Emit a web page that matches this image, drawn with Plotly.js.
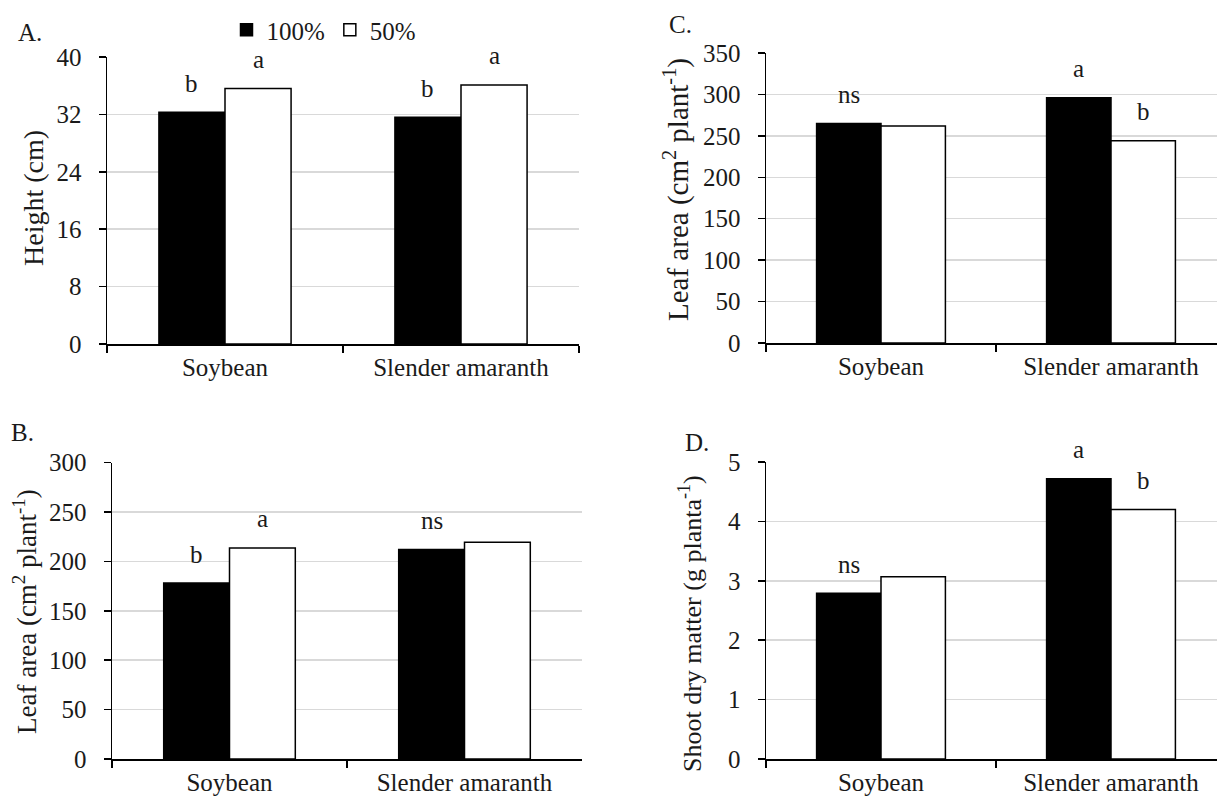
<!DOCTYPE html>
<html>
<head>
<meta charset="utf-8">
<script src="https://cdn.plot.ly/plotly-3.0.1.min.js"></script>
<style>
html,body{margin:0;padding:0;background:#fff;}
#chart{width:1217px;height:804px;}
#chart text, #chart tspan { font-family: "Liberation Serif", "Times New Roman", serif !important; }
</style>
</head>
<body>
<div id="chart"></div>
<script>
// ---- data ----
const categories = ['Soybean', 'Slender amaranth'];
const seriesNames = ['100%', '50%'];

const heightFull = [32.3, 31.6];
const heightHalf = [35.6, 36.1];
const heightLettersFull = ['b', 'b'];
const heightLettersHalf = ['a', 'a'];

const leafB_Full = [178, 212];
const leafB_Half = [213.5, 219.3];
const leafB_LettersFull = ['b', 'ns'];
const leafB_LettersHalf = ['a', ''];

const leafC_Full = [265, 296];
const leafC_Half = [262, 244];
const leafC_LettersFull = ['ns', 'a'];
const leafC_LettersHalf = ['', 'b'];

const dryFull = [2.79, 4.72];
const dryHalf = [3.07, 4.2];
const dryLettersFull = ['ns', 'a'];
const dryLettersHalf = ['', 'b'];

const yTicksA = [0, 8, 16, 24, 32, 40];
const yTicksB = [0, 50, 100, 150, 200, 250, 300];
const yTicksC = [0, 50, 100, 150, 200, 250, 300, 350];
const yTicksD = [0, 1, 2, 3, 4, 5];

// ---- layout helpers ----
const W = 1217, H = 804;
const FONT = 'Liberation Serif';
const TXT = '#1a1a1a';
const FS = 25;
const BARGAP = 0.44;
const px = v => v / W;
const py = v => 1 - v / H;

const panels = [
  {ax: '', full: heightFull, half: heightHalf, lf: heightLettersFull, lh: heightLettersHalf,
   ticks: yTicksA, xd: [107, 579], yd: [344, 57], title: 'Height (cm)', tfs: 28, tx: 34, ty: 198,
   letter: 'A.', lx: 30, ly: 33, legend: true},
  {ax: '2', full: leafC_Full, half: leafC_Half, lf: leafC_LettersFull, lh: leafC_LettersHalf,
   ticks: yTicksC, xd: [766, 1226], yd: [343, 53], title: 'Leaf area (cm<sup>2</sup> plant<sup>-1</sup>)', tfs: 29, tx: 677, ty: 190,
   letter: 'C.', lx: 680, ly: 25},
  {ax: '3', full: leafB_Full, half: leafB_Half, lf: leafB_LettersFull, lh: leafB_LettersHalf,
   ticks: yTicksB, xd: [112, 582], yd: [759, 462.5], title: 'Leaf area (cm<sup>2</sup> plant<sup>-1</sup>)', tfs: 27, tx: 25, ty: 612,
   letter: 'B.', lx: 22, ly: 432},
  {ax: '4', full: dryFull, half: dryHalf, lf: dryLettersFull, lh: dryLettersHalf,
   ticks: yTicksD, xd: [766, 1226], yd: [759, 462], title: 'Shoot dry matter (g planta<sup>-1</sup>)', tfs: 26, tx: 690, ty: 624,
   letter: 'D.', lx: 697, ly: 442}
];

const traces = [];
const annotations = [];
const layout = {
  width: W, height: H,
  margin: {l: 0, r: 0, t: 0, b: 0},
  paper_bgcolor: '#fff', plot_bgcolor: '#fff',
  barmode: 'group', bargap: BARGAP, bargroupgap: 0,
  font: {family: FONT, size: FS, color: TXT},
  showlegend: true,
  legend: {orientation: 'h', x: px(324), y: py(30), xanchor: 'center', yanchor: 'middle',
           font: {family: FONT, size: FS, color: TXT}, itemwidth: 30, tracegroupgap: 0,
           bgcolor: 'rgba(0,0,0,0)'},
  annotations: annotations
};

const off = (1 - BARGAP) / 4;

panels.forEach(p => {
  const xa = 'x' + p.ax, ya = 'y' + p.ax;
  traces.push({type: 'bar', x: categories, y: p.full, name: seriesNames[0], xaxis: xa, yaxis: ya,
    marker: {color: '#000', line: {color: '#000', width: 1.5}}, showlegend: !!p.legend, hoverinfo: 'skip'});
  traces.push({type: 'bar', x: categories, y: p.half, name: seriesNames[1], xaxis: xa, yaxis: ya,
    marker: {color: '#fff', line: {color: '#000', width: 1.5}}, showlegend: !!p.legend, hoverinfo: 'skip'});

  const right = Math.min(p.xd[1], W);
  const band = (p.xd[1] - p.xd[0]) / 2;
  const rngMax = -0.5 + (right - p.xd[0]) / band;
  layout['xaxis' + p.ax] = {
    domain: [px(p.xd[0]), px(right)], anchor: ya, type: 'category', range: [-0.5, rngMax],
    showline: true, linecolor: '#000', linewidth: 1.5, showgrid: false, zeroline: false,
    ticks: 'outside', ticklen: 7, tickcolor: '#000', tickwidth: 1.5, tickson: 'boundaries',
    tickfont: {family: FONT, size: FS, color: TXT}, fixedrange: true
  };
  layout['yaxis' + p.ax] = {
    domain: [py(p.yd[0]), py(p.yd[1])], anchor: xa,
    range: [p.ticks[0], p.ticks[p.ticks.length - 1]], tickvals: p.ticks,
    showline: true, linecolor: '#000', linewidth: 1.5, zeroline: false,
    showgrid: true, gridcolor: '#d9d9d9', gridwidth: 1.5,
    ticks: 'outside', ticklen: 7, tickcolor: '#000', tickwidth: 1.5, ticklabelstandoff: 12,
    tickfont: {family: FONT, size: FS, color: TXT}, fixedrange: true
  };

  categories.forEach((c, i) => {
    if (p.lf[i]) annotations.push({xref: xa, yref: ya, x: i - off, y: p.full[i], text: p.lf[i],
      showarrow: false, yanchor: 'middle', yshift: 29, font: {family: FONT, size: FS, color: TXT}});
    if (p.lh[i]) annotations.push({xref: xa, yref: ya, x: i + off, y: p.half[i], text: p.lh[i],
      showarrow: false, yanchor: 'middle', yshift: 29, font: {family: FONT, size: FS, color: TXT}});
  });

  annotations.push({xref: 'paper', yref: 'paper', x: px(p.tx), y: py(p.ty), text: p.title, textangle: -90,
    showarrow: false, xanchor: 'center', yanchor: 'middle', font: {family: FONT, size: p.tfs, color: TXT}});
  annotations.push({xref: 'paper', yref: 'paper', x: px(p.lx), y: py(p.ly), text: p.letter,
    showarrow: false, xanchor: 'center', yanchor: 'middle', font: {family: FONT, size: FS, color: TXT}});
});

Plotly.newPlot('chart', traces, layout, {staticPlot: true, displayModeBar: false});
</script>
</body>
</html>
